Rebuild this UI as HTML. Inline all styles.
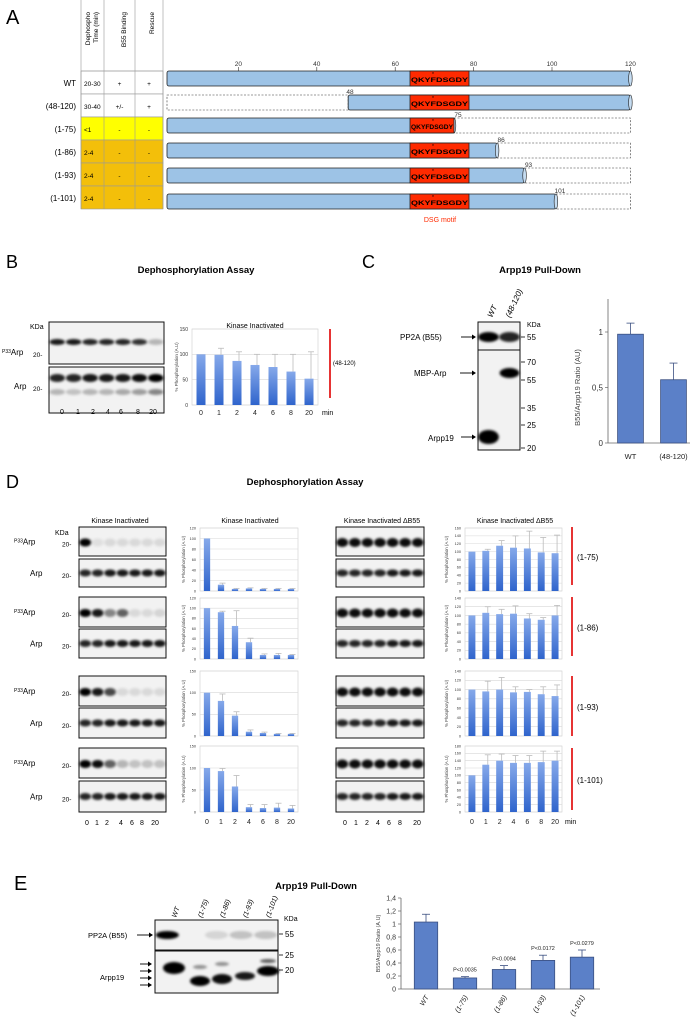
<!DOCTYPE html>
<html><head><meta charset="utf-8"><style>
html,body{margin:0;padding:0;background:#fff;}
svg{display:block;font-family:"Liberation Sans",sans-serif;}
</style></head><body>
<svg id="fig" xmlns="http://www.w3.org/2000/svg" width="690" height="1019" viewBox="0 0 690 1019">
<defs>
<filter id="bl" x="-50%" y="-100%" width="200%" height="300%"><feGaussianBlur stdDeviation="1.4"/></filter>
<linearGradient id="bg" x1="0" y1="0" x2="0" y2="1"><stop offset="0" stop-color="#86a9ea"/><stop offset="1" stop-color="#2f64cc"/></linearGradient>
</defs>
</svg>
<script>
// ---------- chart data ----------
const timeCats = ['0','1','2','4','6','8','20'];
const bVals = [100,99,87,79,75,66,52];
const bErrs = [100,112,105,100,100,100,105];
const cCats = ['WT','(48-120)'];
const cVals = [0.98,0.57];
const cErrs = [1.08,0.72];
const cTicks = ['0','0,5','1'];
const d1Vals = [100,12,4,5,4,4,4];
const d1Errs = [100,15,5,6,5,5,5];
const d2Vals = [100,92,65,33,8,8,8];
const d2Errs = [100,94,95,41,10,11,9];
const d3Vals = [100,81,47,10,7,5,5];
const d3Errs = [100,97,56,14,9,6,6];
const d4Vals = [100,93,58,11,9,10,8];
const d4Errs = [100,99,83,17,17,20,15];
const e1Vals = [100,102,115,110,108,98,96];
const e1Errs = [100,106,128,140,152,136,142];
const e2Vals = [100,106,103,104,93,90,100];
const e2Errs = [100,120,114,122,104,95,123];
const e3Vals = [100,96,100,94,95,90,86];
const e3Errs = [100,118,126,106,100,106,110];
const e4Vals = [100,129,140,134,134,136,140];
const e4Errs = [100,156,158,154,154,166,166];
const ptCats = ['WT','(1-75)','(1-86)','(1-93)','(1-101)'];
const ptVals = [1.03,0.17,0.30,0.44,0.49];
const ptErrs = [1.15,0.19,0.36,0.52,0.60];
const ptPvals = ['','P<0.0035','P<0.0094','P<0.0172','P<0.0279'];
const ptTicks = ['0','0,2','0,4','0,6','0,8','1','1,2','1,4'];

const NS='http://www.w3.org/2000/svg';
const svg=document.getElementById('fig');
function mk(tag,attrs,parent){const e=document.createElementNS(NS,tag);for(const k in attrs)e.setAttribute(k,attrs[k]);(parent||svg).appendChild(e);return e;}
function tx(x,y,s,size,extra,parent){const a=Object.assign({x:x,y:y,'font-size':size,fill:'#000'},extra||{});const e=mk('text',a,parent);e.textContent=s;return e;}

// ---------- Panel A ----------
const gA=mk('g',{});


let t=tx(6,24,'A',20,{});


const rowNames=['WT','(48-120)','(1-75)','(1-86)','(1-93)','(1-101)'];
const rowTop=[71,94,117,140,163,186];
const tbl=[['20-30','+','+'],['30-40','+/-','+'],['<1','-','-'],['2-4','-','-'],['2-4','-','-'],['2-4','-','-']];
const colX=[81,104,135,163];
const rowFill=['#fff','#fff','#ffff00','#f3bf0a','#f3bf0a','#f3bf0a'];
for(let r=0;r<6;r++){
  const rc=mk('rect',{x:81,y:rowTop[r],width:82,height:23,fill:rowFill[r],stroke:'#999','stroke-width':0.6},gA);
  
  
  const lb=tx(76,rowTop[r]+15,rowNames[r],8,{'text-anchor':'end'},gA);
  
  
  for(let c=0;c<3;c++){
    const ct=tx(c==0?84:(colX[c]+colX[c+1])/2,rowTop[r]+15,tbl[r][c],6.5,{'text-anchor':c==0?'start':'middle'},gA);
    
    
  }
}
for(let c=0;c<4;c++){
  const ln=mk('line',{x1:colX[c],y1:0,x2:colX[c],y2:209,stroke:'#999','stroke-width':0.6},gA);
  
  
}
const hl=mk('line',{x1:81,y1:71,x2:163,y2:71,stroke:'#999','stroke-width':0.6},gA);


const hdrs=[[90,'Dephospho'],[98,'Time (min)'],[126,'B55 Binding'],[154,'Rescue']];
for(const h of hdrs){
  const ht=tx(0,0,h[1],6.5,{'text-anchor':'end',transform:'translate('+h[0]+',12) rotate(-90)'},gA);
  
  
}
const ax=v=>160+3.92*v;
for(const v of [20,40,60,80,100,120]){
  const tl=tx(ax(v),66,String(v),6.5,{'text-anchor':'middle',fill:'#333'},gA);
  
  
  const tk=mk('line',{x1:ax(v),y1:67,x2:ax(v),y2:71,stroke:'#333','stroke-width':0.6},gA);
  
  
}
const starts=[1,48,1,1,1,1], ends=[120,120,75,86,93,101];
const barTops=[71,95,118,143,168,194];
for(let r=0;r<6;r++){
  const y=barTops[r],h=15;
  const xs=ax(starts[r])+7*(starts[r]==1?1:0), xe=ax(ends[r]);
  if(starts[r]>1){const d=mk('rect',{x:167,y:y,width:xs-167,height:h,fill:'#fff',stroke:'#333','stroke-width':0.6,'stroke-dasharray':'2,1.5'},gA);
    
    }
  if(ends[r]<120){const d=mk('rect',{x:xe,y:y,width:ax(120)-xe,height:h,fill:'#fff',stroke:'#333','stroke-width':0.6,'stroke-dasharray':'2,1.5'},gA);
    
    }
  const b=mk('rect',{x:starts[r]>1?xs:167,y:y,width:xe-(starts[r]>1?xs:167),height:h,fill:'#9dc3e6',stroke:'#222','stroke-width':0.8,rx:2},gA);
  
  
  const cap=mk('ellipse',{cx:xe,cy:y+h/2,rx:1.8,ry:h/2,fill:'#c5dcf1',stroke:'#222','stroke-width':0.6},gA);
  
  
  const m=mk('rect',{x:410,y:y,width:Math.min(469,xe)-410,height:h,fill:'#ff2a00',stroke:'#222','stroke-width':0.8},gA);
  
  
  const mt=tx(411,y+11,'QKYFDSGDY',6.6,{'font-weight':'bold',textLength:Math.min(57,xe-412),lengthAdjust:'spacingAndGlyphs'},gA);
  
  
  const st=tx(432,y+5,'*',5,{},gA);
  
  
  if(r>0){const nl=tx(r==1?350:xe+4,y-1,String(r==1?48:ends[r]),6.5,{'text-anchor':'middle',fill:'#333'},gA);
    
    }
}
t=tx(440,222,'DSG motif',7,{'text-anchor':'middle',fill:'#ff2a00'},gA);



// ---------- helpers: blots and charts ----------
function blot(x0,y0,x1,y1,ints,bandY,name,opts){
  opts=opts||{};
  const g=mk('g',{});
  
  
  const bx=mk('rect',{x:x0,y:y0,width:x1-x0,height:y1-y0,fill:'#f2f2f2',stroke:'#111','stroke-width':1},g);
  
  
  const n=ints.length,sp=(x1-x0)/n;
  for(let i=0;i<n;i++){
    const el=mk('ellipse',{cx:x0+sp*(i+0.5),cy:bandY,rx:sp*0.47*(opts.rxs||1),ry:opts.ry||3.5,fill:'#000','fill-opacity':ints[i],filter:'url(#bl)'},g);
    
    
  }
  return g;
}
function chart(o){
  const g=mk('g',{});
  
  
  const yv=v=>o.yB-v/o.ymax*(o.yB-o.yT);
  const n=o.vals.length,bw=(o.x1-o.x0)/n;
  const xc=i=>o.x0+bw*(i+0.5);
  const ax0=o.ax0!==undefined?o.ax0:o.x0, ax1=o.ax1!==undefined?o.ax1:o.x1;
  if(o.grid){
    const fr=mk('rect',{x:ax0,y:o.yT,width:ax1-ax0,height:o.yB-o.yT,fill:'none',stroke:'#d4d4d4','stroke-width':0.7},g);
    
    
  }
  for(let k=0;k<o.ticks.length;k++){
    const v=o.tickVals[k];
    if(o.grid){const gl=mk('line',{x1:ax0,y1:yv(v),x2:ax1,y2:yv(v),stroke:'#d8d8d8','stroke-width':0.6},g);
      
      }
    else{const tk=mk('line',{x1:ax0-3,y1:yv(v),x2:ax0,y2:yv(v),stroke:'#666','stroke-width':0.7},g);
      
      }
    const tl=tx(ax0-(o.grid?4:5),yv(v)+o.tfs*0.35,o.ticks[k],o.tfs,{'text-anchor':'end',fill:'#333'},g);
    
    
  }
  if(!o.grid){
    const ya=mk('line',{x1:ax0,y1:o.yT,x2:ax0,y2:o.yB,stroke:'#666','stroke-width':0.8},g);
    
    
    const xa=mk('line',{x1:ax0,y1:o.yB,x2:ax1,y2:o.yB,stroke:'#666','stroke-width':0.8},g);
    
    
  }
  for(let i=0;i<n;i++){
    const bwid=bw*o.barFrac;
    const e=o.errs[i];
    if(e>o.vals[i]){
      const el=mk('line',{x1:xc(i)+(o.errOff||0),y1:yv(o.vals[i]),x2:xc(i)+(o.errOff||0),y2:yv(e),stroke:o.errCol,'stroke-width':0.8},g);
      
      
      const cp=mk('line',{x1:xc(i)+(o.errOff||0)-o.cap,y1:yv(e),x2:xc(i)+(o.errOff||0)+o.cap,y2:yv(e),stroke:o.errCol,'stroke-width':0.8},g);
      
      
    }
    const b=mk('rect',{x:xc(i)-bwid/2,y:yv(o.vals[i]),width:bwid,height:o.yB-yv(o.vals[i]),fill:o.fill,stroke:o.stroke||'none','stroke-width':0.8},g);
    
    
    if(o.showX){
      let xl;
      if(o.rotX) xl=tx(0,0,o.cats[i],o.xfs,{'text-anchor':'end',fill:'#222',transform:'translate('+(xc(i)+3)+','+(o.yB+8)+') rotate(-60)','font-style':'italic'},g);
      else xl=tx(xc(i),o.yB+o.xdy,o.cats[i],o.xfs,{'text-anchor':'middle',fill:'#222'},g);
      
      
    }
    if(o.pv&&o.pv[i]){
      const pl=tx(xc(i),yv(e)-5,o.pv[i],5.5,{'text-anchor':'middle',fill:'#222'},g);
      
      
    }
  }
  if(o.ytitle){
    const yt=tx(0,0,o.ytitle,o.ytfs,{'text-anchor':'middle',fill:'#444',transform:'translate('+o.ytx+','+((o.yT+o.yB)/2)+') rotate(-90)'},g);
    
    
  }
  return g;
}
function label(x,y,s,size,name,extra){const e=tx(x,y,s,size,extra||{});return e;}
function p33(x,y,name){
  const g=mk('text',{x:x,y:y,'font-size':8,fill:'#000'});
  
  
  const s1=mk('tspan',{'font-size':5,dy:-2},g);s1.textContent='P33';
  const s2=mk('tspan',{dy:2},g);s2.textContent='Arp';
}
function redLine(x,y0,y1,name){const l=mk('line',{x1:x,y1:y0,x2:x,y2:y1,stroke:'#e00000','stroke-width':1.6});}
function arrow(x1,x2,y,name){const l=mk('line',{x1:x1,y1:y,x2:x2-3,y2:y,stroke:'#000','stroke-width':0.9});
  const p=mk('polygon',{points:(x2-4)+','+(y-2.5)+' '+x2+','+y+' '+(x2-4)+','+(y+2.5),fill:'#000'});}
function tickMark(x,y,s,name){const l=mk('line',{x1:x,y1:y,x2:x+4,y2:y,stroke:'#000','stroke-width':0.8});label(x+6,y+3,s,8,name+'-label');}

// ---------- Panel B ----------
label(6,268,'B',18,'panel-b-label');
label(196,273,'Dephosphorylation Assay',9.5,'panel-b-title',{'font-weight':'bold','text-anchor':'middle'});
label(30,329,'KDa',7,'kda-label');
label(104,328,'Kinase Inactivated',7,'blot-header',{'text-anchor':'middle'});
p33(2,355,'p33arp-label');
label(33,357,'20-',6.5,'mw-marker');
label(14,389,'Arp',8,'arp-label');
label(33,391,'20-',6.5,'mw-marker');
blot(49,322,164,364,[.9,.9,.85,.85,.85,.8,.25],342,'blot-b-p33',{ry:3});
blot(49,367,164,413,[.85,.85,.9,.9,.9,.95,1],378,'blot-b-arp',{ry:4});
blot(49,367,164,413,[.25,.2,.25,.25,.3,.35,.45],392,'blot-b-arp-lower',{ry:3}).querySelector('rect').setAttribute('fill','none');
const laneB=[62,78,93,108,121,138,153];
for(let i=0;i<7;i++) label(laneB[i],414,timeCats[i],7,'lane-label',{'text-anchor':'middle'});
label(255,328,'Kinase Inactivated',7,'chart-header',{'text-anchor':'middle'});
chart({name:'chart-b',x0:192,x1:318,yT:329,yB:405,ymax:150,ticks:['0','50','100','150'],tickVals:[0,50,100,150],tfs:5,vals:bVals,errs:bErrs,cats:timeCats,grid:true,barFrac:0.5,fill:'url(#bg)',errCol:'#bbb',cap:3,errOff:2,showX:true,xfs:7,xdy:10,ytitle:'% Phosphorylation (A.U)',ytfs:4.5,ytx:178});
label(322,415,'min',7,'x-unit');
redLine(330,329,398,'red-bracket-b');
label(333,365,'(48-120)',6,'construct-label-b');

// ---------- Panel C ----------
label(362,268,'C',18,'panel-c-label');
label(540,273,'Arpp19 Pull-Down',9.5,'panel-c-title',{'font-weight':'bold','text-anchor':'middle'});
label(0,0,'WT',8,'lane-label',{transform:'translate(492,318) rotate(-65)','font-style':'italic'});
label(0,0,'(48-120)',8,'lane-label',{transform:'translate(510,318) rotate(-65)','font-style':'italic'});
label(527,327,'KDa',7,'kda-label');
blot(478,322,520,350,[1,.85],337,'blot-c-b55',{ry:5,rxs:1.05});
blot(478,350,520,450,[0,1],373,'blot-c-mbp',{ry:5});
blot(478,350,520,450,[1,0],437,'blot-c-arpp19',{ry:7,rxs:1.05}).querySelector('rect').setAttribute('fill','none');
tickMark(521,337,'55','mw-55');
tickMark(521,362,'70','mw-70');
tickMark(521,380,'55','mw-55b');
tickMark(521,408,'35','mw-35');
tickMark(521,425,'25','mw-25');
tickMark(521,448,'20','mw-20');
label(400,340,'PP2A (B55)',8,'pp2a-label');
arrow(461,476,337,'arrow-pp2a');
label(414,376,'MBP-Arp',8,'mbp-arp-label');
arrow(460,476,373,'arrow-mbp');
label(428,441,'Arpp19',8,'arpp19-label');
arrow(461,476,437,'arrow-arpp19');
chart({name:'chart-c',x0:609,x1:695,ax0:608,ax1:690,yT:332,yB:443,ymax:1,ticks:cTicks,tickVals:[0,0.5,1],tfs:8,vals:cVals,errs:cErrs,cats:cCats,grid:false,barFrac:0.6,fill:'#5b80c8',stroke:'#3a4f80',errCol:'#3a4f80',cap:4,showX:true,xfs:7.5,xdy:16,ytitle:'B55/Arpp19 Ratio (AU)',ytfs:7.5,ytx:580});
const cTop=mk('line',{x1:608,y1:299,x2:608,y2:332,stroke:'#666','stroke-width':0.8});



// ---------- Panel D ----------
label(6,488,'D',18,'panel-d-label');
label(305,485,'Dephosphorylation Assay',9.5,'panel-d-title',{'font-weight':'bold','text-anchor':'middle'});
label(120,523,'Kinase Inactivated',7,'blot-header',{'text-anchor':'middle'});
label(250,523,'Kinase Inactivated',7,'chart-header',{'text-anchor':'middle'});
label(382,523,'Kinase Inactivated \u0394B55',7,'blot-header',{'text-anchor':'middle'});
label(515,523,'Kinase Inactivated \u0394B55',7,'chart-header',{'text-anchor':'middle'});
label(55,535,'KDa',7,'kda-label');
const rowsD=[[527,556,559,587],[597,627,629,658],[676,706,708,738],[748,778,781,812]];
const p33Ints=[[1,.08,.1,.1,.1,.1,.1],[1,.9,.45,.6,.1,.1,.12],[1,.9,.7,.1,.1,.1,.1],[1,.95,.6,.25,.2,.2,.2]];
const names=['1-75','1-86','1-93','1-101'];
for(let r=0;r<4;r++){
  const R=rowsD[r];
  p33(14,(R[0]+R[1])/2+3,'p33arp-label');
  label(30,(R[2]+R[3])/2+3,'Arp',8,'arp-label');
  label(62,(R[0]+R[1])/2+5,'20-',6.5,'mw-marker');
  label(62,(R[2]+R[3])/2+5,'20-',6.5,'mw-marker');
  blot(79,R[0],166,R[1],p33Ints[r],(R[0]+R[1])/2+1,'blot-d-p33-'+names[r],{ry:4});
  blot(79,R[2],166,R[3],[.85,.85,.9,.9,.9,.9,.9],(R[2]+R[3])/2,'blot-d-arp-'+names[r],{ry:3.5});
  blot(336,R[0],424,R[1],[.95,.95,.95,.95,.95,.95,.95],(R[0]+R[1])/2+1,'blot-d-p33-db55-'+names[r],{ry:4.5});
  blot(336,R[2],424,R[3],[.85,.85,.85,.85,.9,.9,.9],(R[2]+R[3])/2,'blot-d-arp-db55-'+names[r],{ry:3.5});
  redLine(572,R[0],R[3]-2,'red-bracket-'+names[r]);
  label(577,(R[0]+R[3])/2+3,'('+names[r]+')',8,'construct-label');
}
const dChartRows=[[528,591],[598,659],[671,736],[746,812]];
const leftVals=[d1Vals,d2Vals,d3Vals,d4Vals], leftErrs=[d1Errs,d2Errs,d3Errs,d4Errs];
const leftMax=[120,120,150,150];
const leftTicks=[['0','20','40','60','80','100','120'],['0','20','40','60','80','100','120'],['0','50','100','150'],['0','50','100','150']];
const rightVals=[e1Vals,e2Vals,e3Vals,e4Vals], rightErrs=[e1Errs,e2Errs,e3Errs,e4Errs];
const rightMax=[160,140,140,180];
function tk(arr){return arr.map(Number);}
const rightTicks=[['0','20','40','60','80','100','120','140','160'],['0','20','40','60','80','100','120','140'],['0','20','40','60','80','100','120','140'],['0','20','40','60','80','100','120','140','160','180']];
for(let r=0;r<4;r++){
  const Y=dChartRows[r];
  chart({name:'chart-d-'+names[r],x0:200,x1:298,yT:Y[0],yB:Y[1],ymax:leftMax[r],ticks:leftTicks[r],tickVals:tk(leftTicks[r]),tfs:3.8,vals:leftVals[r],errs:leftErrs[r],cats:timeCats,grid:true,barFrac:0.45,fill:'url(#bg)',errCol:'#bbb',cap:3,errOff:1.5,showX:r==3,xfs:7,xdy:12,ytitle:'% Phosphorylation (A.U)',ytfs:4.3,ytx:185});
  chart({name:'chart-d-db55-'+names[r],x0:465,x1:562,yT:Y[0],yB:Y[1],ymax:rightMax[r],ticks:rightTicks[r],tickVals:tk(rightTicks[r]),tfs:3.8,vals:rightVals[r],errs:rightErrs[r],cats:timeCats,grid:true,barFrac:0.5,fill:'url(#bg)',errCol:'#bbb',cap:3,errOff:2,showX:r==3,xfs:7,xdy:12,ytitle:'% Phosphorylation (A.U)',ytfs:4.3,ytx:448});
}
label(565,824,'min',7,'x-unit');
const laneD1=[87,97,107,121,132,142,155];
const laneD3=[345,356,367,378,389,400,417];
for(let i=0;i<7;i++){label(laneD1[i],825,timeCats[i],7,'lane-label',{'text-anchor':'middle'});label(laneD3[i],825,timeCats[i],7,'lane-label',{'text-anchor':'middle'});}

// ---------- Panel E ----------
label(14,890,'E',20,'panel-e-label');
label(316,889,'Arpp19 Pull-Down',9.5,'panel-e-title',{'font-weight':'bold','text-anchor':'middle'});
const laneE=[174,200,222,245,268];
for(let i=0;i<5;i++) label(0,0,ptCats[i],7,'lane-label',{transform:'translate('+(laneE[i]+2)+',918) rotate(-70)','font-style':'italic'});
label(284,921,'KDa',7,'kda-label');
blot(155,920,278,950,[1,0,.12,.2,.2],935,'blot-e-b55',{ry:4});
const gE=mk('g',{});


const fe=mk('rect',{x:155,y:951,width:123,height:42,fill:'#f2f2f2',stroke:'#111','stroke-width':1},gE);


const eb=[[174,968,11,6,1],[200,981,10,5,1],[222,979,10,5,.95],[245,976,10,4,.9],[268,971,11,5,1],[200,967,7,2,.4],[222,964,7,2,.4],[268,961,8,2,.6]];
for(const b of eb){const e=mk('ellipse',{cx:b[0],cy:b[1],rx:b[2],ry:b[3],fill:'#000','fill-opacity':b[4],filter:'url(#bl)'},gE);
  
  }
tickMark(279,934,'55','mw-55');
tickMark(279,955,'25','mw-25');
tickMark(279,970,'20','mw-20');
label(88,938,'PP2A (B55)',7.5,'pp2a-label');
arrow(137,153,935,'arrow-pp2a');
label(100,980,'Arpp19',7.5,'arpp19-label');
arrow(140,152,964,'arrow-band-1');
arrow(140,152,971,'arrow-band-2');
arrow(140,152,978,'arrow-band-3');
arrow(140,152,985,'arrow-band-4');
chart({name:'chart-e',x0:406.5,x1:601.5,ax0:401,ax1:600,yT:898,yB:989,ymax:1.4,ticks:ptTicks,tickVals:[0,0.2,0.4,0.6,0.8,1,1.2,1.4],tfs:7,vals:ptVals,errs:ptErrs,cats:ptCats,pv:ptPvals,grid:false,barFrac:0.6,fill:'#5b80c8',stroke:'#3a4f80',errCol:'#3a4f80',cap:4,showX:true,rotX:true,xfs:7,ytitle:'B55/Arpp19 Ratio (A.U)',ytfs:5.5,ytx:380});
</script>
</body></html>
